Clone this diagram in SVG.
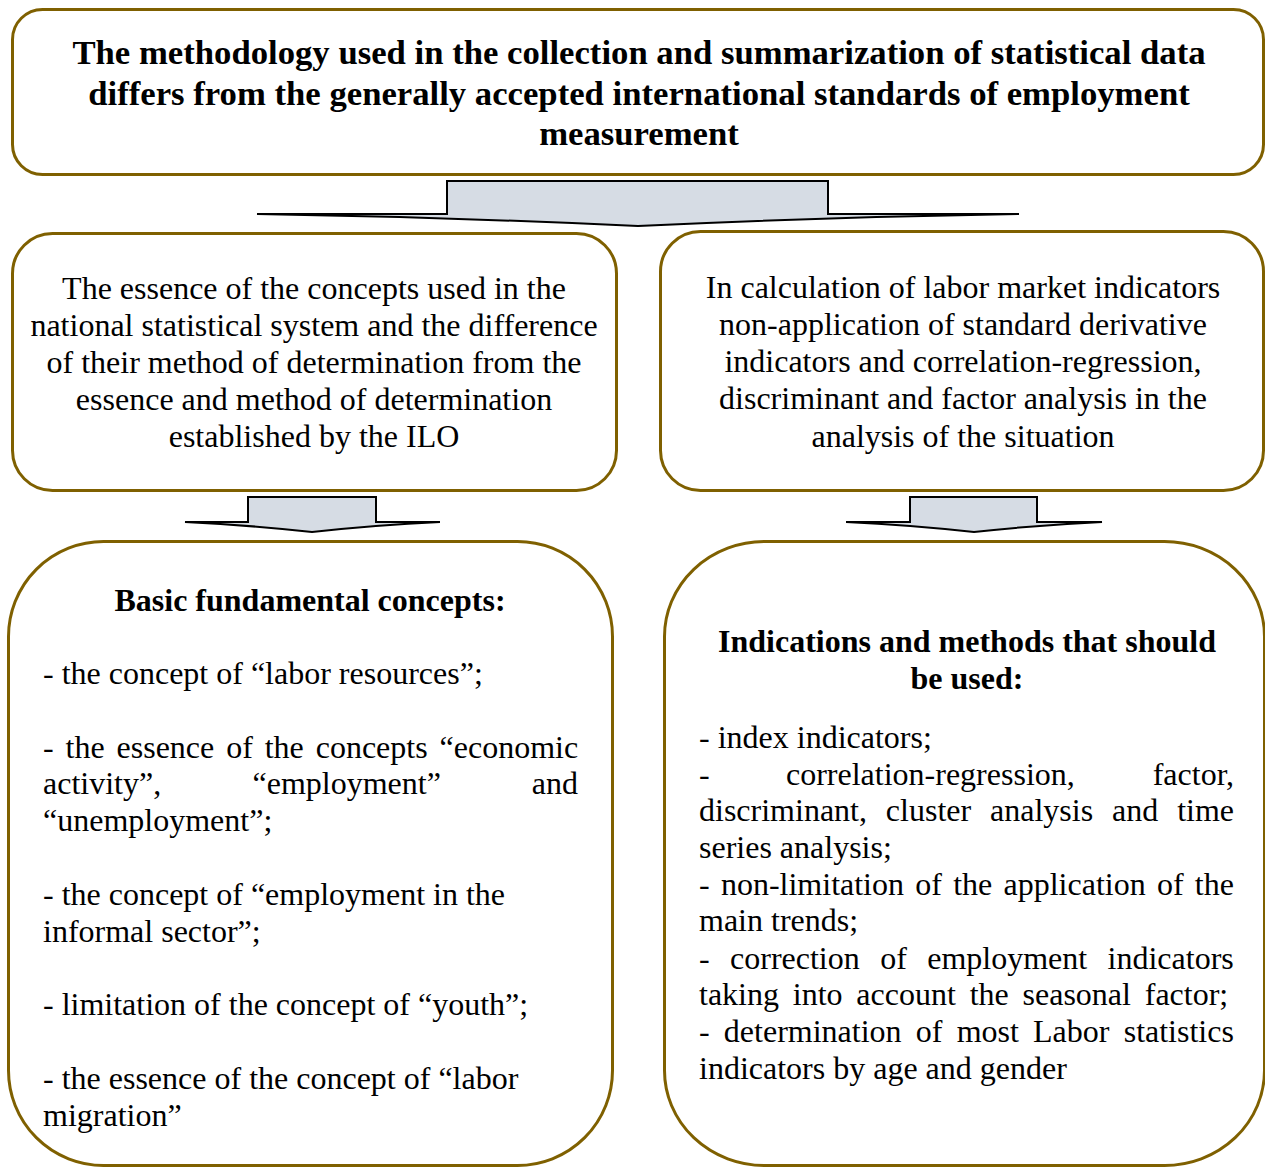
<svg xmlns="http://www.w3.org/2000/svg" width="1265" height="1167" viewBox="0 0 1265 1167">
  <style>
    .box { fill: #ffffff; stroke: #7f6000; stroke-width: 3; }
    .arrow { fill: #d6dce4; stroke: #000000; stroke-width: 2; stroke-linejoin: miter; }
    .t { font-family: "Liberation Serif", "Times New Roman", serif; font-size: 32px; fill: #000000; }
    .b { font-weight: bold; }
    .h { font-family: "Liberation Serif", "Times New Roman", serif; font-size: 34.7px; font-weight: bold; fill: #000000; }
    .c { text-anchor: middle; }
    .e { text-anchor: end; }
  </style>
  <rect width="1265" height="1167" fill="#ffffff"/>

  <!-- top heading box -->
  <g id="node-heading">
    <rect class="box" x="12.5" y="9.5" width="1251" height="165" rx="30" ry="30"/>
    <text class="h c" x="639" y="64">The methodology used in the collection and summarization of statistical data</text>
    <text class="h c" x="639" y="105">differs from the generally accepted international standards of employment</text>
    <text class="h c" x="639" y="145">measurement</text>
  </g>

  <!-- middle left -->
  <g id="node-concepts">
    <rect class="box" x="12.5" y="233.5" width="604" height="257" rx="40" ry="40"/>
    <text class="t c" x="314" y="299">The essence of the concepts used in the</text>
    <text class="t c" x="314" y="336">national statistical system and the difference</text>
    <text class="t c" x="314" y="373">of their method of determination from the</text>
    <text class="t c" x="314" y="410">essence and method of determination</text>
    <text class="t c" x="314" y="447">established by the ILO</text>
  </g>

  <!-- middle right -->
  <g id="node-indicators">
    <rect class="box" x="660.5" y="231.5" width="603" height="259" rx="40" ry="40"/>
    <text class="t c" x="963" y="298">In calculation of labor market indicators</text>
    <text class="t c" x="963" y="335">non-application of standard derivative</text>
    <text class="t c" x="963" y="372">indicators and correlation-regression,</text>
    <text class="t c" x="963" y="409">discriminant and factor analysis in the</text>
    <text class="t c" x="963" y="447">analysis of the situation</text>
  </g>

  <!-- bottom left -->
  <g id="node-basic">
    <rect class="box" x="8.5" y="541.5" width="604" height="624" rx="95" ry="95"/>
    <text class="t b c" x="310" y="611">Basic fundamental concepts:</text>
    <text class="t" x="43" y="684">- the concept of “labor resources”;</text>
    <text class="t" x="43" y="758" word-spacing="3.9">- the essence of the concepts “economic</text>
    <text class="t" x="43" y="794">activity”,</text>
    <text class="t" x="252.5" y="794">“employment”</text>
    <text class="t e" x="578" y="794">and</text>
    <text class="t" x="43" y="831">“unemployment”;</text>
    <text class="t" x="43" y="905">- the concept of “employment in the</text>
    <text class="t" x="43" y="942">informal sector”;</text>
    <text class="t" x="43" y="1015">- limitation of the concept of “youth”;</text>
    <text class="t" x="43" y="1089">- the essence of the concept of “labor</text>
    <text class="t" x="43" y="1126">migration”</text>
  </g>

  <!-- bottom right -->
  <g id="node-methods">
    <rect class="box" x="664.5" y="541.5" width="600" height="624" rx="100" ry="95"/>
    <text class="t b c" x="967" y="652">Indications and methods that should</text>
    <text class="t b c" x="967" y="689">be used:</text>
    <text class="t" x="699" y="748">- index indicators;</text>
    <text class="t" x="699" y="785">-</text>
    <text class="t" x="786" y="785">correlation-regression,</text>
    <text class="t e" x="1234" y="785">factor,</text>
    <text class="t" x="699" y="821" word-spacing="10.9">discriminant, cluster analysis and time</text>
    <text class="t" x="699" y="858">series analysis;</text>
    <text class="t" x="699" y="895" word-spacing="3.25">- non-limitation of the application of the</text>
    <text class="t" x="699" y="931">main trends;</text>
    <text class="t" x="699" y="969" word-spacing="12.4">- correction of employment indicators</text>
    <text class="t" x="699" y="1005" word-spacing="5.8">taking into account the seasonal factor;</text>
    <text class="t" x="699" y="1042" word-spacing="6.2">- determination of most Labor statistics</text>
    <text class="t" x="699" y="1079">indicators by age and gender</text>
  </g>

  <!-- block arrows -->
  <g id="connectors">
    <path class="arrow" d="M257,214 H447 V181 H828 V214 H1019 Q830,217 638,226 Q446,217 257,214 Z"/>
    <path class="arrow" d="M185,522 H248 V497 H376 V522 H440 Q376,525 312,532 Q248,525 185,522 Z"/>
    <path class="arrow" d="M846,522 H910 V497 H1037 V522 H1102 Q1038,525 974,532 Q910,525 846,522 Z"/>
  </g>
</svg>
